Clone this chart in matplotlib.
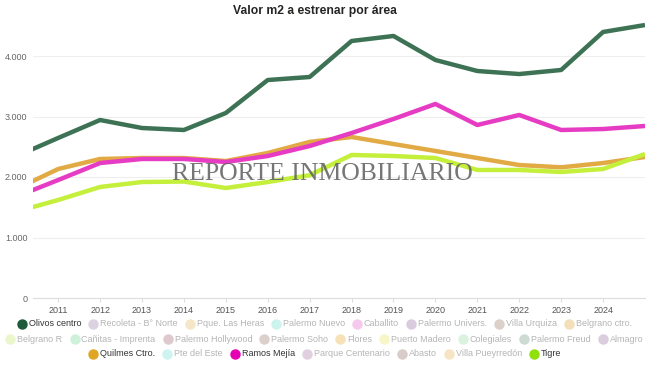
import matplotlib.pyplot as plt
from matplotlib.lines import Line2D
from matplotlib.ticker import FuncFormatter

# data (2010 value only sets the clipped start of each line)
years = [2010, 2011, 2012, 2013, 2014, 2015, 2016, 2017, 2018, 2019, 2020, 2021, 2022, 2023, 2024, 2025]
olivos = [2342, 2645, 2942, 2810, 2777, 3058, 3603, 3653, 4248, 4331, 3934, 3752, 3702, 3769, 4397, 4512]
quilmes = [1802, 2132, 2298, 2314, 2314, 2264, 2397, 2580, 2661, 2545, 2430, 2314, 2198, 2160, 2231, 2331]
ramos = [1675, 1950, 2231, 2298, 2298, 2248, 2347, 2512, 2727, 2959, 3207, 2860, 3025, 2777, 2793, 2843]
tigre = [1427, 1620, 1835, 1917, 1925, 1818, 1917, 2030, 2364, 2347, 2314, 2116, 2116, 2083, 2132, 2380]
tick_years = list(range(2011, 2025))

legend_rows = [
    [("Olivos centro", "#1f5a3b", True), ("Recoleta - B° Norte", "#dcd3e2", False),
     ("Pque. Las Heras", "#f4e6c6", False), ("Palermo Nuevo", "#cdf3ef", False),
     ("Caballito", "#f6c8ec", False), ("Palermo Univers.", "#dacbde", False),
     ("Villa Urquiza", "#dcd0ca", False), ("Belgrano ctro.", "#f4dfbb", False)],
    [("Belgrano R", "#ecf6cc", False), ("Cañitas - Imprenta", "#cdf1db", False),
     ("Palermo Hollywood", "#dfc9cf", False), ("Palermo Soho", "#dbd0cb", False),
     ("Flores", "#f6e1b9", False), ("Puerto Madero", "#f6f6c6", False),
     ("Colegiales", "#dbf2de", False), ("Palermo Freud", "#cddbd3", False),
     ("Almagro", "#d9cdde", False)],
    [("Quilmes Ctro.", "#e0a522", True), ("Pte del Este", "#cdf4f1", False),
     ("Ramos Mejía", "#e500b3", True), ("Parque Centenario", "#dfcfdf", False),
     ("Abasto", "#d9cbc7", False), ("Villa Pueyrredón", "#f6e5c4", False),
     ("Tigre", "#8fe00c", True)],
]

plt.rcParams['font.family'] = ['Liberation Sans', 'DejaVu Sans']

W, H = 650, 369
fig = plt.figure(figsize=(6.5, 3.69), dpi=100)
ax = fig.add_axes([33 / W, 1 - 298 / H, 612 / W, 278 / H])

ax.plot(years, olivos, color='#3d7354', lw=3.2, solid_capstyle='butt', zorder=3)
ax.plot(years, quilmes, color='#e2aa45', lw=3.2, solid_capstyle='butt', zorder=3)
ax.plot(years, tigre, color='#c4f03c', lw=3.2, solid_capstyle='butt', zorder=3)
ax.plot(years, ramos, color='#e63cc3', lw=3.2, solid_capstyle='butt', zorder=3)

ax.set_xlim(2010.4, 2025)
ax.set_ylim(0, 278 / 60.5 * 1000)
ax.set_yticks([0, 1000, 2000, 3000, 4000])
ax.yaxis.set_major_formatter(FuncFormatter(lambda v, p: f"{int(v):,}".replace(",", ".")))
ax.set_xticks(tick_years)
ax.grid(axis='y', color='#eeeeee', lw=0.8, zorder=0)
for s in ['top', 'right', 'left']:
    ax.spines[s].set_visible(False)
ax.spines['bottom'].set_color('#dddddd')
ax.tick_params(axis='y', length=0, labelsize=6.5, labelcolor='#666666', pad=4)
ax.tick_params(axis='x', length=3, color='#dddddd', labelsize=6.5, labelcolor='#555555', pad=3)

fig.text(315 / W, 1 - 11 / H, "Valor m2 a estrenar por área", ha='center', va='center',
         fontsize=8.7, fontweight='bold', color='#252423')

# watermark
fig.text(322 / W, 1 - 174 / H, "REPORTE INMOBILIARIO", ha='center', va='center',
         fontsize=18.5, family=['Liberation Serif', 'DejaVu Serif'], color='#5e5e5e',
         alpha=0.85, zorder=10)

# legend, flow layout centred per row
renderer = fig.canvas.get_renderer()
row_y = [324, 339, 354]
for row, yy in zip(legend_rows, row_y):
    items = []
    for name, col, on in row:
        t = fig.text(0, 1 - yy / H, name, fontsize=6.5, va='center',
                     color='#333333' if on else '#b5b5b5')
        items.append((t, t.get_window_extent(renderer).width, col))
    total = sum(8 + 3 + w for _, w, _ in items) + 8 * (len(items) - 1)
    x = 325 - total / 2
    for t, w, col in items:
        fig.add_artist(Line2D([(x + 4) / W], [1 - yy / H], marker='o', ms=6.5,
                              color=col, lw=0, transform=fig.transFigure))
        t.set_x((x + 11) / W)
        x += 8 + 3 + w + 8

fig.savefig('out.png', dpi=100)
